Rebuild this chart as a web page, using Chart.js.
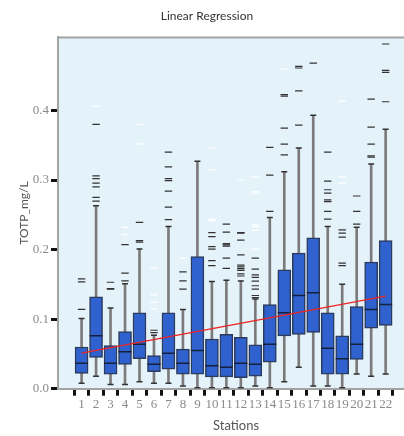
<!DOCTYPE html>
<html><head><meta charset="utf-8">
<script src="https://cdn.jsdelivr.net/npm/chart.js@4.4.1/dist/chart.umd.min.js"></script>
<style>html,body{margin:0;padding:0;background:#fff;overflow:hidden;width:404px;height:436px}
#wrap{width:472px;height:436px}</style></head>
<body><div id="wrap"><canvas id="c" width="472" height="436"></canvas></div>
<script>
const stations = [1,2,3,4,5,6,7,8,9,10,11,12,13,14,15,16,17,18,19,20,21,22];
const whiskerLow  = [0.008,0.018,0.006,0.006,0.010,0.008,0.008,0.004,0.0015,0.0015,0.0015,0.0015,0.004,0.0015,0.010,0.031,0.004,0.004,0.0015,0.021,0.018,0.021];
const q1          = [0.022,0.045,0.021,0.035,0.043,0.0245,0.028,0.021,0.021,0.017,0.017,0.016,0.018,0.038,0.076,0.078,0.081,0.021,0.021,0.042,0.087,0.091];
const median      = [0.0365,0.076,0.0365,0.053,0.064,0.035,0.051,0.0365,0.055,0.033,0.031,0.0365,0.035,0.064,0.109,0.134,0.138,0.058,0.043,0.064,0.114,0.121];
const q3          = [0.060,0.132,0.062,0.082,0.109,0.0475,0.109,0.057,0.190,0.0715,0.078,0.074,0.063,0.121,0.171,0.195,0.217,0.109,0.076,0.118,0.182,0.213];
const whiskerHigh = [0.101,0.263,0.116,0.151,0.201,0.077,0.233,0.114,0.327,0.154,0.156,0.155,0.129,0.246,0.312,0.346,0.393,0.233,0.150,0.232,0.323,0.373];
const outliers = [
  [0.114,0.1535,0.158],
  [0.2695,0.275,0.290,0.2955,0.302,0.306,0.380],
  [0.143,0.144,0.153],
  [0.155,0.166,0.207],
  [0.2106,0.213,0.239],
  [0.0806,0.084],
  [0.243,0.261,0.284,0.299,0.302,0.319,0.340],
  [0.143,0.155,0.168],
  [],
  [0.177,0.184,0.2006,0.2043,0.2187,0.2245],
  [0.173,0.1876,0.205,0.2068,0.2086,0.225,0.2365],
  [0.162,0.165,0.170,0.1727,0.175,0.1775,0.1924,0.2135,0.2235,0.2245],
  [0.131,0.134,0.143,0.148,0.1545,0.160,0.1636,0.1718,0.1876],
  [0.255,0.307,0.347],
  [0.336,0.3517,0.3747,0.4206,0.4226],
  [0.379,0.428,0.461,0.4633],
  [0.468],
  [0.2437,0.255,0.269,0.2715,0.281,0.286,0.2984,0.340],
  [0.177,0.1804,0.2178,0.2235,0.2283],
  [0.2365,0.255,0.277],
  [0.333,0.3348,0.3517,0.376,0.4164],
  [0.4125,0.4547,0.4576,0.4955]
];
const faintOutliers = [
  [],[0.406],[],[0.2216,0.232],[0.352,0.380],[0.1147,0.124,0.135,0.1737],[],[0.1876],[],
  [0.2417,0.2437,0.3147,0.346],[],[0.300],[0.2006,0.228,0.233,0.236,0.281,0.2835,0.3046],[],
  [0.4596],[],[],[],[0.2955,0.3046,0.4135],[],[],[]
];
const regressionX = [1, 22];
const regressionY = [0.051, 0.133];
const yTicks = [0.0, 0.1, 0.2, 0.3, 0.4];

const flat = arr => stations.flatMap((s,i) => arr[i].map(v => ({x:s, y:v})));

const bgPlugin = {
  id: 'bg',
  beforeDraw(chart) {
    const {ctx, chartArea: a} = chart;
    ctx.save();
    ctx.fillStyle = '#e4f2fa';
    ctx.fillRect(a.left, a.top, a.right - a.left, a.bottom - a.top);
    ctx.strokeStyle = '#a3a3a3';
    ctx.lineWidth = 2;
    ctx.beginPath();
    ctx.moveTo(a.left, a.top);
    ctx.lineTo(a.right, a.top);
    ctx.stroke();
    ctx.restore();
  }
};

new Chart(document.getElementById('c'), {
  data: {
    datasets: [
      { type:'bar', order:6, data: stations.map((s,i)=>({x:s, y:[whiskerLow[i], whiskerHigh[i]]})),
        backgroundColor:'#7b7b7b', borderWidth:0, barThickness:2 },
      { type:'bar', order:5, data: stations.map((s,i)=>({x:s, y:[q1[i], q3[i]]})),
        backgroundColor:'#2f62cf', borderColor:'#2c3a5c', borderWidth:1.5, borderSkipped:false, barThickness:13 },
      { type:'scatter', order:4, data: stations.map((s,i)=>({x:s, y:median[i]})),
        pointStyle:'line', pointRadius:6.5, pointBorderColor:'#16203c', pointBorderWidth:1.5, pointHoverRadius:6.5 },
      { type:'scatter', order:3, data: stations.flatMap((s,i)=>[{x:s, y:whiskerLow[i]},{x:s, y:whiskerHigh[i]}]),
        pointStyle:'line', pointRadius:3, pointBorderColor:'#333', pointBorderWidth:1.5, pointHoverRadius:3 },
      { type:'scatter', order:2, data: flat(outliers),
        pointStyle:'line', pointRadius:3.7, pointBorderColor:'#333', pointBorderWidth:1.2, pointHoverRadius:3.7 },
      { type:'scatter', order:2, data: flat(faintOutliers),
        pointStyle:'line', pointRadius:3.7, pointBorderColor:'#ffffff', pointBorderWidth:1.2, pointHoverRadius:3.7 },
      { type:'line', order:1, data: regressionX.map((x,i)=>({x, y:regressionY[i]})),
        borderColor:'#ee2424', borderWidth:1.3, pointRadius:0, fill:false }
    ]
  },
  options: {
    responsive:false, animation:false, devicePixelRatio:1,
    layout:{padding:{left:0, right:58, top:0, bottom:0}},
    datasets:{bar:{grouped:false}},
    plugins:{
      legend:{display:false}, tooltip:{enabled:false},
      title:{display:true, text:'Linear Regression', color:'#333', font:{family:'Lato', size:12, weight:'normal'}, padding:{top:9, bottom:14}}
    },
    scales:{
      x:{ type:'linear', min:-0.07, max:23.4,
        afterBuildTicks: s => { s.ticks = stations.map(v => ({value:v})); },
        afterFit: s => { s.height = 47.3; },
        grid:{drawOnChartArea:false, drawTicks:true, tickLength:7, tickWidth:3, tickColor:'#111'},
        border:{display:true, color:'#a3a3a3', width:2},
        ticks:{color:'#8a8a8a', font:{family:'Liberation Sans Narrow', size:13}, padding:1, autoSkip:false, maxRotation:0, callback: v => String(v)},
        title:{display:true, text:'Stations', color:'#555', font:{family:'Lato', size:13}, padding:{top:0, bottom:2}}
      },
      y:{ type:'linear', min:0, max:0.505,
        afterBuildTicks: s => { s.ticks = yTicks.map(v => ({value:v})); },
        afterFit: s => { s.width = 58; },
        grid:{drawOnChartArea:false, drawTicks:true, tickLength:7, tickWidth:3, tickColor:'#111'},
        border:{display:true, color:'#a3a3a3', width:2},
        ticks:{color:'#8a8a8a', font:{family:'Liberation Sans Narrow', size:13}, padding:2, callback: v => Number(v).toFixed(1)},
        title:{display:true, text:'TOTP_mg/L', color:'#555', font:{family:'Lato', size:12}, padding:{top:17, bottom:0}}
      }
    }
  },
  plugins:[bgPlugin]
});
</script>
</body></html>
